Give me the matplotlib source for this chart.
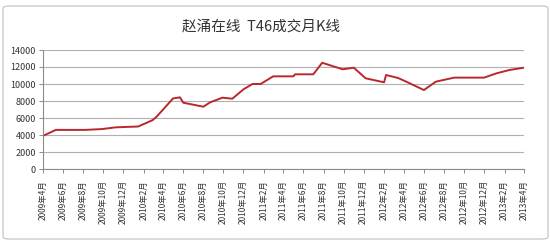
import matplotlib
matplotlib.use("Agg")
import matplotlib.pyplot as plt
from matplotlib.patches import FancyBboxPatch
import pandas as pd

plt.rcParams['font.family'] = ['Noto Sans CJK SC', 'DejaVu Sans']

title = "赵涌在线  T46成交月K线"

# price points (date, value)
dates = ["2009-04-01", "2009-05-10", "2009-08-07", "2009-09-28", "2009-11-07",
         "2010-01-15", "2010-02-28", "2010-03-12", "2010-05-01", "2010-05-22",
         "2010-06-01", "2010-08-01", "2010-08-22", "2010-09-28", "2010-10-28",
         "2010-12-01", "2010-12-28", "2011-01-22", "2011-03-01", "2011-05-01",
         "2011-05-07", "2011-07-01", "2011-07-28", "2011-09-28", "2011-11-01",
         "2011-11-13", "2011-12-07", "2012-02-01", "2012-02-07", "2012-03-15",
         "2012-04-07", "2012-06-01", "2012-07-07", "2012-09-01", "2012-12-01",
         "2013-01-07", "2013-02-16", "2013-04-01"]
values = [3900, 4600, 4600, 4700, 4900,
          5000, 5750, 6150, 8300, 8430,
          7800, 7330, 7850, 8390, 8270,
          9370, 10000, 10000, 10900, 10900,
          11140, 11140, 12500, 11730, 11920,
          11500, 10670, 10200, 11060, 10700,
          10300, 9290, 10270, 10750, 10750,
          11250, 11650, 11920]

tick_dates = pd.date_range("2009-04-01", "2013-04-01", freq="2MS")
tick_labels = [f"{d.year}年{d.month}月" for d in tick_dates]
y_ticks = list(range(0, 14001, 2000))

fig = plt.figure(figsize=(5.5, 2.45), dpi=100)

# chart area border
border = FancyBboxPatch((3 / 550, 1 - 239 / 245), 545 / 550, 233 / 245,
                        boxstyle="round,pad=0,rounding_size=0.01",
                        transform=fig.transFigure, facecolor="none",
                        edgecolor="#BFBFBF", linewidth=0.8, zorder=-1)
fig.patches.append(border)

ax = fig.add_axes([43 / 550, 1 - 169 / 245, 481 / 550, 119 / 245])
ax.set_facecolor("none")

x = pd.to_datetime(dates)
ax.plot(x, values, color="#B8282D", linewidth=1.4, solid_joinstyle="round")

ax.set_xlim(tick_dates[0], tick_dates[-1])
ax.set_ylim(0, 14000)
ax.set_yticks(y_ticks)
ax.set_yticklabels([str(v) for v in y_ticks], fontsize=6.5, color="#333333")
ax.set_xticks(tick_dates)
ax.set_xticklabels(tick_labels, rotation=90, fontsize=6, color="#333333")

ax.grid(axis="y", color="#B0B0B0", linewidth=0.8)
ax.set_axisbelow(True)
for s in ["top", "right"]:
    ax.spines[s].set_visible(False)
for s in ["left", "bottom"]:
    ax.spines[s].set_color("#8C8C8C")
    ax.spines[s].set_linewidth(0.8)
ax.tick_params(axis="both", length=3, width=0.7, color="#8C8C8C", pad=2)
ax.tick_params(axis="x", pad=5)

fig.text(261 / 550, 1 - 27 / 245, title, ha="center", va="center",
         fontsize=10.5, color="#333333")

fig.savefig("out.png", dpi=100)
